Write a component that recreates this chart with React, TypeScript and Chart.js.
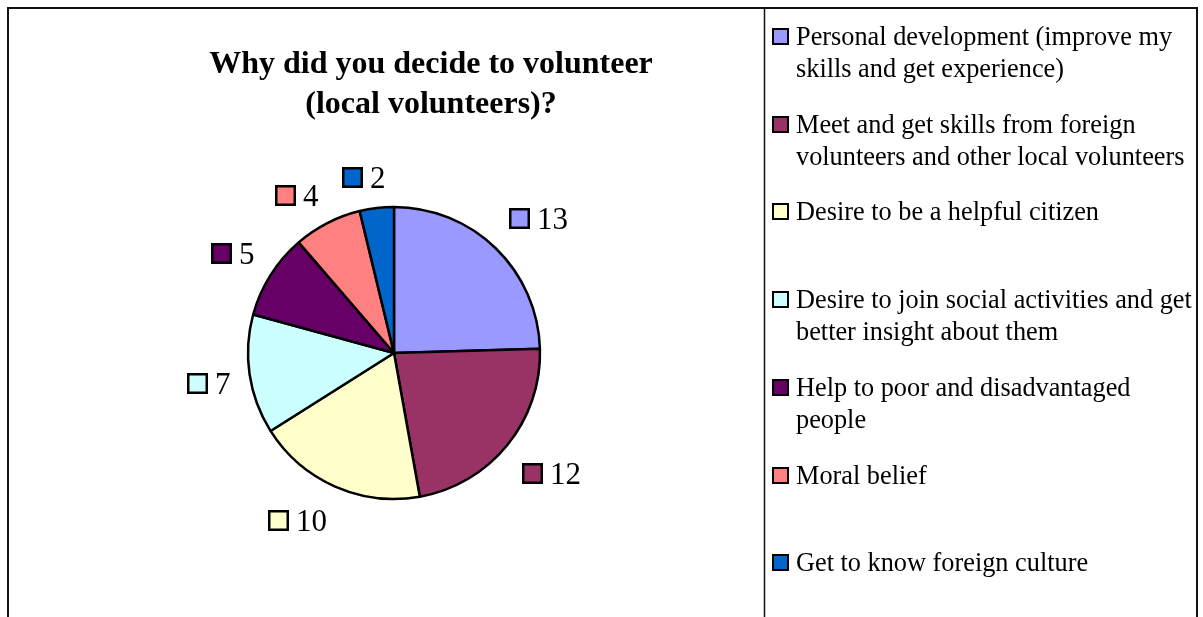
import React, { useEffect, useRef } from "react";
import { Chart, registerables } from "chart.js";

Chart.register(...registerables);

const TITLE_LINES = ["Why did you decide to volunteer", "(local volunteers)?"];
const CATEGORIES = [
  "Personal development (improve my skills and get experience)",
  "Meet and get skills from foreign volunteers and other local volunteers",
  "Desire to be a helpful citizen",
  "Desire to join social activities and get better insight about them",
  "Help to poor and disadvantaged people",
  "Moral belief",
  "Get to know foreign culture",
];
const VALUES = [13, 12, 10, 7, 5, 4, 2];
const COLORS = ["#9999FF", "#993366", "#FFFFCC", "#CCFFFF", "#660066", "#FF8080", "#0066CC"];

const W = 1203;
const H = 617;
const SERIF = '"Liberation Serif", "Times New Roman", serif';

function wrap(ctx: CanvasRenderingContext2D, text: string, maxW: number): string[] {
  const words = text.split(" ");
  const lines: string[] = [];
  let cur = "";
  for (const w of words) {
    const test = cur ? cur + " " + w : w;
    if (cur && ctx.measureText(test).width > maxW) {
      lines.push(cur);
      cur = w;
    } else {
      cur = test;
    }
  }
  if (cur) lines.push(cur);
  return lines;
}

const clamp1 = (v: number) => Math.max(-1, Math.min(1, v));

const decorPlugin = {
  id: "decor",
  beforeDraw(chart: any) {
    const ctx: CanvasRenderingContext2D = chart.ctx;
    ctx.save();
    ctx.fillStyle = "#ffffff";
    ctx.fillRect(0, 0, W, H);
    ctx.strokeStyle = "#111";
    ctx.lineWidth = 2;
    ctx.beginPath();
    ctx.moveTo(8, H + 5);
    ctx.lineTo(8, 8);
    ctx.lineTo(1197, 8);
    ctx.lineTo(1197, H + 5);
    ctx.stroke();
    ctx.lineWidth = 1.5;
    ctx.beginPath();
    ctx.moveTo(764.5, 8);
    ctx.lineTo(764.5, H + 5);
    ctx.stroke();
    ctx.restore();
  },
  afterDraw(chart: any) {
    const ctx: CanvasRenderingContext2D = chart.ctx;
    ctx.save();
    // Title
    ctx.fillStyle = "#000";
    ctx.textAlign = "center";
    ctx.textBaseline = "alphabetic";
    ctx.font = `bold 32px ${SERIF}`;
    TITLE_LINES.forEach((t, i) => ctx.fillText(t, 431, 73 + i * 40));

    // Data labels (legend key + value), placed outside each slice
    const meta = chart.getDatasetMeta(0);
    ctx.font = `31px ${SERIF}`;
    ctx.textAlign = "left";
    meta.data.forEach((arc: any, i: number) => {
      const p = arc.getProps(["x", "y", "startAngle", "endAngle", "outerRadius"], true);
      const mid = (p.startAngle + p.endAngle) / 2;
      const dx = Math.cos(mid);
      const dy = Math.sin(mid);
      const text = String(VALUES[i]);
      const tw = ctx.measureText(text).width;
      const box = 21;
      const gap = 7;
      const w = box + gap + tw;
      const h = 22;
      const r = p.outerRadius + 19;
      const cx = p.x + dx * r + clamp1(dx * 4) * (w / 2);
      const cy = p.y + dy * r + clamp1(dy * 4) * (h / 2 + (w - 43) * 0.35);
      const left = cx - w / 2;
      const base = Math.round(cy + 10.5);
      const bl = Math.round(left);
      ctx.fillStyle = COLORS[i];
      ctx.fillRect(bl + 1.25, base - box + 1.25, box - 2.5, box - 2.5);
      ctx.strokeStyle = "#000";
      ctx.lineWidth = 2.5;
      ctx.strokeRect(bl + 1.25, base - box + 1.25, box - 2.5, box - 2.5);
      ctx.fillStyle = "#000";
      ctx.fillText(text, bl + box + gap, base);
    });

    // Legend
    ctx.font = `26.3px ${SERIF}`;
    CATEGORIES.forEach((c, i) => {
      const base = Math.round(45 + i * 87.7);
      const k = 17;
      ctx.fillStyle = COLORS[i];
      ctx.fillRect(773, base - k + 1, k - 2, k - 2);
      ctx.strokeStyle = "#000";
      ctx.lineWidth = 2;
      ctx.strokeRect(773, base - k + 1, k - 2, k - 2);
      ctx.fillStyle = "#000";
      const lines = wrap(ctx, c, 408);
      lines.forEach((ln, j) => ctx.fillText(ln, 796, base + j * 32));
    });
    ctx.restore();
  },
};

export default function App() {
  const ref = useRef<HTMLCanvasElement | null>(null);
  useEffect(() => {
    if (!ref.current) return;
    const chart = new Chart(ref.current, {
      type: "pie",
      data: {
        labels: CATEGORIES,
        datasets: [
          {
            data: VALUES,
            backgroundColor: COLORS,
            borderColor: "#000",
            borderWidth: 2.5,
          },
        ],
      },
      options: {
        responsive: false,
        animation: false,
        devicePixelRatio: 1,
        radius: 146,
        layout: { padding: { left: 247, right: 662, top: 206, bottom: 117 } },
        plugins: {
          legend: { display: false },
          tooltip: { enabled: false },
          title: { display: false },
        },
      } as any,
      plugins: [decorPlugin],
    });
    return () => chart.destroy();
  }, []);
  return (
    <div style={{ position: "absolute", left: 0, top: 0, width: W, height: H }}>
      <canvas ref={ref} width={W} height={H} style={{ display: "block" }} />
    </div>
  );
}
